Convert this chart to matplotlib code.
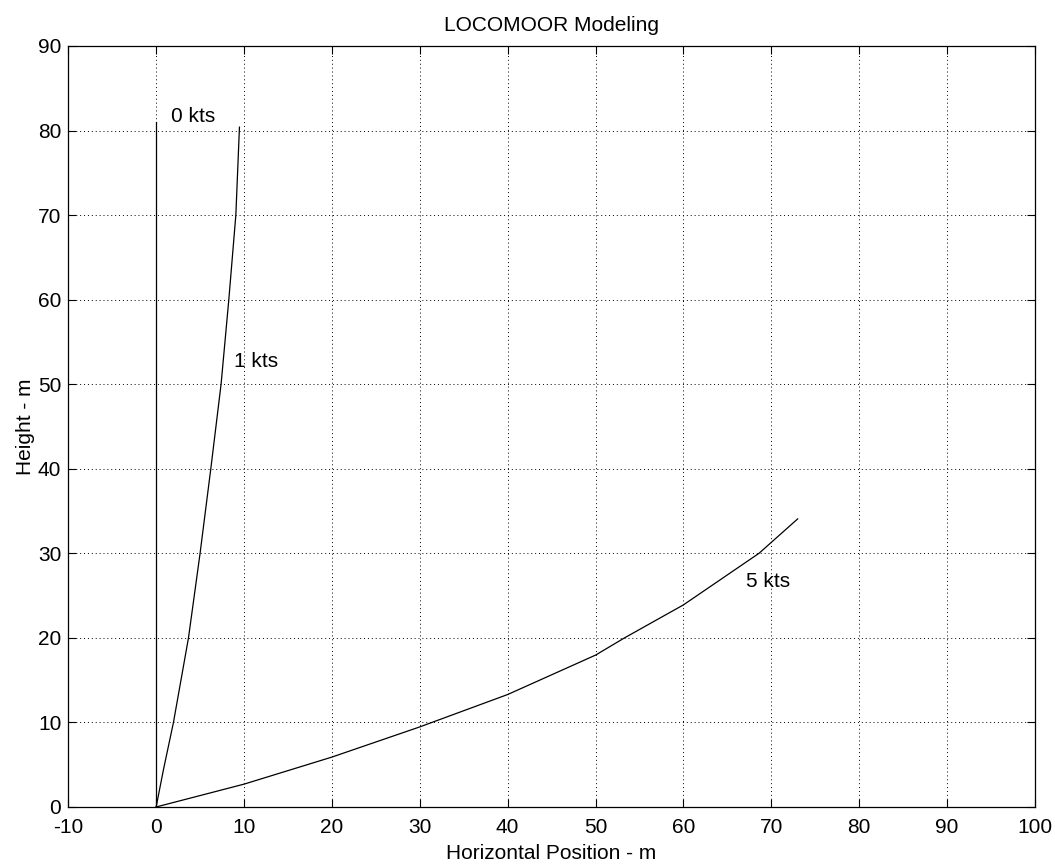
import matplotlib.pyplot as plt

plt.rcParams['font.family'] = ['Liberation Sans', 'DejaVu Sans']
plt.rcParams['axes.unicode_minus'] = False

# mooring line shapes (horizontal position, height in m)
x_0kts = [0.0, 0.0]
y_0kts = [0.0, 81.0]

x_1kts = [0.0, 0.83, 1.97, 3.68, 5.0, 6.22, 7.39, 8.27, 9.07, 9.48]
y_1kts = [0.0, 4.4, 10.0, 20.0, 30.0, 40.0, 50.0, 60.0, 70.0, 80.4]

x_5kts = [0.0, 10.0, 20.0, 30.0, 40.0, 50.0, 53.3, 60.0, 68.6, 73.0]
y_5kts = [0.0, 2.7, 5.9, 9.47, 13.3, 17.96, 20.0, 23.9, 30.0, 34.07]

labels = ['0 kts', '1 kts', '5 kts']
label_pos = [(1.7, 81.7), (8.9, 52.7), (67.1, 26.7)]

fig = plt.figure(figsize=(10.55, 8.64), dpi=100)
ax = fig.add_axes([0.0647, 0.066, 0.9163, 0.8808])

ax.plot(x_0kts, y_0kts, color='black', linewidth=0.9)
ax.plot(x_1kts, y_1kts, color='black', linewidth=0.9)
ax.plot(x_5kts, y_5kts, color='black', linewidth=0.9)

for txt, (tx, ty) in zip(labels, label_pos):
    ax.text(tx, ty, txt, fontsize=15, ha='left', va='center')

ax.set_xlim(-10, 100)
ax.set_ylim(0, 90)
ax.set_xticks(range(-10, 101, 10))
ax.set_yticks(range(0, 91, 10))
ax.grid(True, color='black', linestyle=(0, (1, 3)), linewidth=0.7)
ax.set_axisbelow(True)
ax.tick_params(direction='in', top=True, right=True, length=6, width=0.8,
               labelsize=15)
ax.tick_params(axis='x', pad=8)
ax.tick_params(axis='y', pad=5)
for s in ax.spines.values():
    s.set_linewidth(0.9)

ax.set_title('LOCOMOOR Modeling', fontsize=15, pad=11)
ax.set_xlabel('Horizontal Position - m', fontsize=15, labelpad=5)
ax.set_ylabel('Height - m', fontsize=15, labelpad=2)

fig.savefig('out.png', dpi=100)
